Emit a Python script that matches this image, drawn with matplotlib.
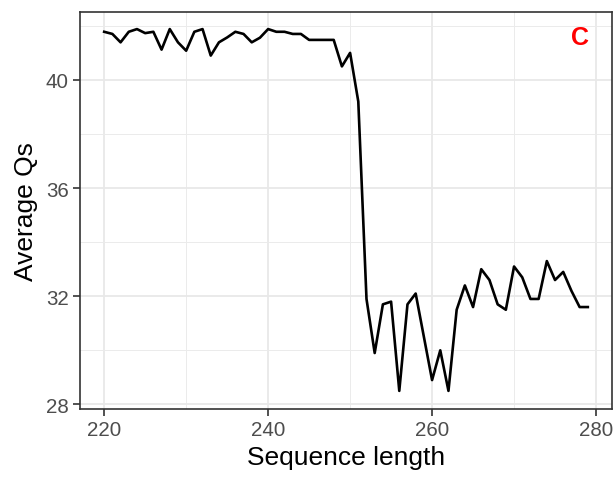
import matplotlib
matplotlib.use('Agg')
import matplotlib.pyplot as plt
import numpy as np

# Données : longueur de séquence vs Qs moyen
seq_length = list(range(220, 280))
avg_qs = [41.78, 41.70, 41.39, 41.78, 41.88, 41.73, 41.78, 41.12, 41.88, 41.39,
          41.08, 41.78, 41.88, 40.90, 41.39, 41.57, 41.78, 41.70, 41.39, 41.56,
          41.88, 41.78, 41.78, 41.70, 41.70, 41.48, 41.48, 41.48, 41.48, 40.50,
          41.00, 39.20, 31.90, 29.90, 31.70, 31.80, 28.50, 31.70, 32.10, 30.50,
          28.90, 30.00, 28.50, 31.50, 32.40, 31.60, 33.00, 32.60, 31.70, 31.50,
          33.10, 32.70, 31.90, 31.90, 33.30, 32.60, 32.90, 32.20, 31.60, 31.60]
x_ticks = [220, 240, 260, 280]
y_ticks = [28, 32, 36, 40]
x_minor = [230, 250, 270]
y_minor = [30, 34, 38, 42]

plt.rcParams['font.family'] = ['Liberation Sans', 'DejaVu Sans']

fig = plt.figure(figsize=(6.16, 4.81), dpi=100)
ax = fig.add_axes([80/616, 1 - 410/481, 532/616, 397.5/481])

ax.plot(seq_length, avg_qs, color='black', linewidth=1.9, zorder=3)

ax.set_xlim(217.05, 281.95)
ax.set_ylim(27.83, 42.53)
ax.set_xticks(x_ticks)
ax.set_yticks(y_ticks)
ax.set_xticks(x_minor, minor=True)
ax.set_yticks(y_minor, minor=True)
ax.grid(True, which='major', color='#E8E8E8', linewidth=1.3, zorder=0)
ax.grid(True, which='minor', color='#EBEBEB', linewidth=0.7, zorder=0)
ax.tick_params(which='minor', length=0)
ax.tick_params(which='major', length=5, width=1.2, color='#333333',
               labelsize=14.8, labelcolor='#4D4D4D', pad=3)
for s in ax.spines.values():
    s.set_color('#333333')
    s.set_linewidth(1.2)
ax.set_axisbelow(True)

ax.set_xlabel('Sequence length', fontsize=19, labelpad=4)
ax.set_ylabel('Average Qs', fontsize=19, labelpad=6)

ax.text(0.94, 0.935, 'C', transform=ax.transAxes, color='#FF0000',
        fontsize=18, fontweight='bold', ha='center', va='center')

plt.savefig('out.png', dpi=100)
